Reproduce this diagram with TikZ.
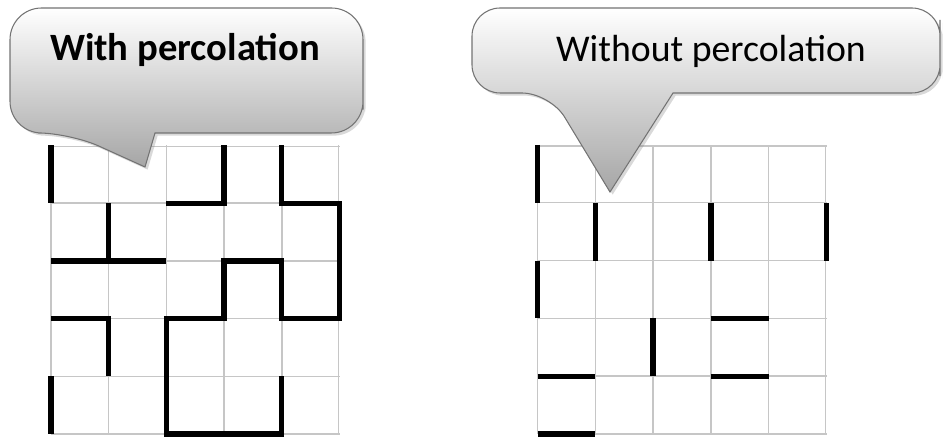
\documentclass[tikz,border=0pt]{standalone}
\usepackage{fontspec}
\setmainfont{Carlito}
\usetikzlibrary{shadows}

\begin{document}
\begin{tikzpicture}[x=0.02cm, y=0.02cm,
    bubble/.style={draw=black!55, line width=0.6pt, top color=white, bottom color=gray!70,
        drop shadow={shadow xshift=1.5pt, shadow yshift=-1.5pt, opacity=0.3}},
    cell/.style={draw=gray!45, line width=0.8pt},
    bond/.style={line width=3pt, black},
    title/.style={anchor=base, font=\fontsize{21.5}{21.5}\selectfont}]
    \useasboundingbox (0,0) rectangle (944,438);

    % Left lattice (percolating)
    \begin{scope}[shift={(51,4)}, scale=57.7]
        \draw[cell] (0,0) grid[step=1] (5,5);
        \draw[bond] (0,5) -- (0,4);
        \draw[bond] (2,4) -- (3,4) -- (3,5);
        \draw[bond] (4,5) -- (4,4) -- (5,4) -- (5,2) -- (4,2) -- (4,3) -- (3,3)
            -- (3,2) -- (2,2) -- (2,0) -- (4,0) -- (4,1);
        \draw[bond] (1,4) -- (1,3);
        \draw[bond] (0,3) -- (2,3);
        \draw[bond] (0,2) -- (1,2) -- (1,1);
        \draw[bond] (0,1) -- (0,0);
    \end{scope}

    % Right lattice (no spanning cluster)
    \begin{scope}[shift={(537.5,4)}, scale=57.8]
        \draw[cell] (0,0) grid[step=1] (5,5);
        \draw[bond] (0,5) -- (0,4);
        \draw[bond] (1,4) -- (1,3);
        \draw[bond] (3,4) -- (3,3);
        \draw[bond] (5,4) -- (5,3);
        \draw[bond] (0,3) -- (0,2);
        \draw[bond] (3,2) -- (4,2);
        \draw[bond] (2,2) -- (2,1);
        \draw[bond] (0,1) -- (1,1);
        \draw[bond] (3,1) -- (4,1);
        \draw[bond] (0,0) -- (1,0);
    \end{scope}

    % Speech bubbles
    \draw[bubble, rounded corners=18] (363,360) -- (363,430) -- (10,430) -- (10,305)
        -- (70,305) [sharp corners] -- (145,271) -- (155,305) [rounded corners=18]
        -- (363,305) -- cycle;
    \draw[bubble, rounded corners=16] (940,390) -- (940,430) -- (472,430) -- (472,345)
        -- (550,345) [sharp corners] -- (610,246) -- (673,345) [rounded corners=16]
        -- (940,345) -- cycle;

    \node[title, font=\fontsize{22}{22}\selectfont\bfseries] (withlbl) at (185,377) {With percolation};
    \node[title] (withoutlbl) at (711,376) {Without percolation};
\end{tikzpicture}
\end{document}
